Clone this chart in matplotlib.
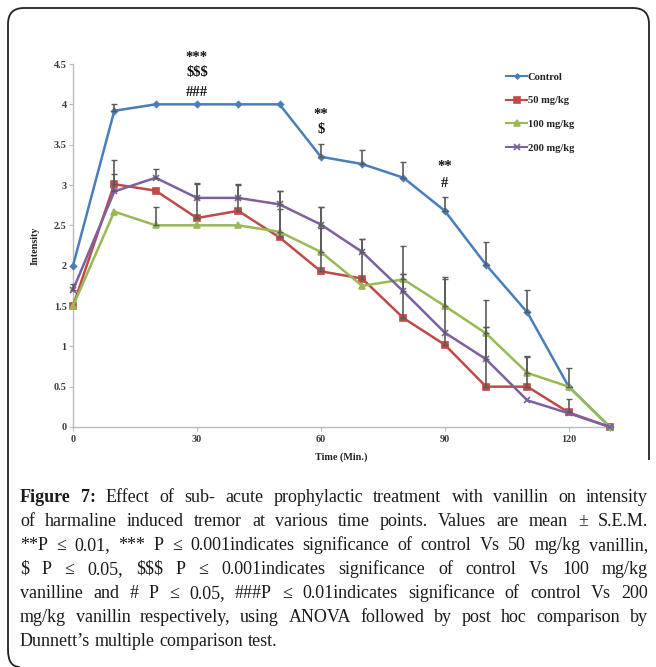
import numpy as np
import matplotlib
matplotlib.use("Agg")
import matplotlib.pyplot as plt
from matplotlib.path import Path
from matplotlib.patches import PathPatch

# ---------------- data ----------------
times = [0, 10, 20, 30, 40, 50, 60, 70, 80, 90, 100, 110, 120, 130]
control = [2.0, 3.92, 4.0, 4.0, 4.0, 4.0, 3.35, 3.26, 3.09, 2.68, 2.01, 1.42, 0.50, 0.0]
mg50 = [1.5, 3.01, 2.93, 2.59, 2.68, 2.35, 1.93, 1.84, 1.35, 1.02, 0.50, 0.50, 0.18, 0.0]
mg100 = [1.5, 2.67, 2.50, 2.50, 2.50, 2.42, 2.17, 1.75, 1.83, 1.50, 1.16, 0.67, 0.50, 0.0]
mg200 = [1.70, 2.92, 3.09, 2.84, 2.84, 2.76, 2.51, 2.17, 1.68, 1.17, 0.84, 0.33, 0.17, 0.0]

control_err = [0, 0.08, 0, 0, 0, 0, 0.16, 0.17, 0.20, 0.17, 0.28, 0.28, 0.23, 0]
mg50_err = [0, 0.30, 0, 0.43, 0.33, 0.58, 0.80, 0.49, 0.89, 0.84, 1.07, 0.38, 0.17, 0]
mg100_err = [0, 0, 0.23, 0, 0, 0.28, 0.30, 0, 0.07, 0.34, 0.08, 0.20, 0, 0]
mg200_err = [0.07, 0.22, 0.11, 0.17, 0.16, 0.17, 0.22, 0.16, 0.22, 0, 0.40, 0, 0, 0]

series_labels = ["Control", "50 mg/kg", "100 mg/kg", "200 mg/kg"]
xticks = [0, 30, 60, 90, 120]
yticks = [0, 0.5, 1, 1.5, 2, 2.5, 3, 3.5, 4, 4.5]
ytick_labels = ["0", "0.5", "1", "1.5", "2", "2.5", "3", "3.5", "4", "4.5"]

sig_marks = [(30, ["***", "$$$", "###"]), (60, ["**", "$"]), (90, ["**", "#"])]
sig_y = {30: [4.58, 4.40, 4.15], 60: [3.88, 3.69], 90: [3.23, 3.02]}

caption_lines = [
    [("Figure 7:", True), ("Effect of sub- acute prophylactic treatment with vanillin on intensity", False)],
    [("of harmaline induced tremor at various time points. Values are mean \u00b1 S.E.M.", False)],
    [("**P \u2264 0.01, *** P \u2264 0.001indicates significance of control Vs 50 mg/kg vanillin,", False)],
    [("$ P \u2264 0.05, $$$ P \u2264 0.001indicates significance of control Vs 100 mg/kg", False)],
    [("vanilline and # P \u2264 0.05, ###P \u2264 0.01indicates significance of control Vs 200", False)],
    [("mg/kg vanillin respectively, using ANOVA followed by post hoc comparison by", False)],
    [("Dunnett\u2019s multiple comparison test.", False)],
]

# ---------------- figure ----------------
W, H = 656, 667
fig = plt.figure(figsize=(W / 100, H / 100), dpi=100)
fig.patch.set_facecolor("white")

def fx(px):
    return px / W

def fy(py):
    return 1 - py / H

# rounded border
r = 16
x0, x1, y0 = 8, 649, 8
verts = [
    (x1, 460), (x1, y0 + r), (x1, y0), (x1 - r, y0),
    (x0 + r, y0), (x0, y0), (x0, y0 + r),
    (x0, 650), (x0, 667), (x0 + 12, 667),
]
codes = [Path.MOVETO, Path.LINETO, Path.CURVE3, Path.CURVE3,
         Path.LINETO, Path.CURVE3, Path.CURVE3,
         Path.LINETO, Path.CURVE3, Path.CURVE3]
verts_f = [(fx(a), fy(b)) for a, b in verts]
fig.patches.append(PathPatch(Path(verts_f, codes), transform=fig.transFigure,
                             fill=False, edgecolor="#222222", lw=1.3))

ax_left, ax_right, ax_top, ax_bottom = 73, 610, 64, 427
ax = fig.add_axes([fx(ax_left), fy(ax_bottom), fx(ax_right - ax_left), (ax_bottom - ax_top) / H])
ax.set_xlim(0, 130)
ax.set_ylim(0, 4.5)

colors = ["#4A7EBB", "#BE4B48", "#98B954", "#7D60A0"]
markers = ["D", "s", "^", "x"]
msizes = [3, 5, 5, 5]
all_y = [control, mg50, mg100, mg200]
all_err = [control_err, mg50_err, mg100_err, mg200_err]

t = np.array(times)
for y, e, c in zip(all_y, all_err, colors):
    y = np.array(y)
    e = np.array(e)
    m = e > 0
    ax.errorbar(t[m], y[m], yerr=[np.zeros(m.sum()), e[m]], fmt="none",
                ecolor="#5a5a5a", elinewidth=1.2, capsize=2, capthick=1.0, zorder=4,
                clip_on=False)

for y, c, mk, ms, lab in zip(all_y, colors, markers, msizes, series_labels):
    ax.plot(times, y, color=c, lw=1.8, marker=mk, ms=ms, mec=c, mfc=c, mew=1.2,
            label=lab, zorder=3, clip_on=False)

for s in ["top", "right"]:
    ax.spines[s].set_visible(False)
for s in ["left", "bottom"]:
    ax.spines[s].set_color("#bbbbbb")
    ax.spines[s].set_linewidth(1.0)

tick_font = dict(family="Liberation Serif", weight="bold", size=7.3)
ax.set_xticks(xticks)
ax.set_xticklabels([str(v) for v in xticks], fontdict=tick_font, color="#3a3a3a")
ax.set_yticks(yticks)
ax.set_yticklabels(ytick_labels, fontdict=tick_font, color="#3a3a3a")
ax.tick_params(axis="y", length=3, color="#bbbbbb", width=0.8, pad=1.5)
ax.tick_params(axis="x", length=3, color="#bbbbbb", width=0.8, pad=2.5)

ax.set_xlabel("Time (Min.)", family="Liberation Serif", weight="bold", size=7.3, color="#222222", labelpad=6)
ax.set_ylabel("Intensity", family="Liberation Serif", weight="bold", size=7.3, color="#222222", labelpad=10)

for x, marks in sig_marks:
    for txt, yy in zip(marks, sig_y[x]):
        ax.text(x, yy, txt, ha="center", va="center", family="Liberation Serif",
                weight="bold", size=10.5, color="#111111", parse_math=False, clip_on=False)

leg = ax.legend(loc="upper left", bbox_to_anchor=((502 - ax_left) / (ax_right - ax_left), (ax_bottom - 68) / (ax_bottom - ax_top)),
                frameon=False, handlelength=2.0, handletextpad=0.05, labelspacing=1.35,
                prop=dict(family="Liberation Serif", weight="bold", size=7.6), borderaxespad=0)
for txt in leg.get_texts():
    txt.set_color("#222222")
for h, ms in zip(leg.legend_handles, msizes):
    h.set_markersize(ms * 0.8)
    h.set_linewidth(1.5)

# ---------------- caption (justified) ----------------
fig.canvas.draw()
renderer = fig.canvas.get_renderer()
cap_left, cap_right = 20, 648
cap_width = cap_right - cap_left
fs = 13.0
line_y0, line_step = 497, 24.1

def make_words(line):
    words = []
    for seg, bold in line:
        for w in seg.split(" "):
            if w:
                words.append((w, bold))
    return words

def word_width(w, bold, size):
    tt = fig.text(0, 0, w, family="Liberation Serif", weight="bold" if bold else "normal",
                  size=size, parse_math=False)
    bb = tt.get_window_extent(renderer)
    tt.remove()
    return bb.width

space_w = word_width("a a", False, fs) - 2 * word_width("a", False, fs)
for i, line in enumerate(caption_lines):
    words = make_words(line)
    widths = [word_width(w, b, fs) for w, b in words]
    last = i == len(caption_lines) - 1
    if last or len(words) == 1:
        gap = space_w
    else:
        gap = (cap_width - sum(widths)) / (len(words) - 1)
    x = cap_left
    y = line_y0 + i * line_step
    for (w, b), wd in zip(words, widths):
        fig.text(fx(x), fy(y), w, family="Liberation Serif", weight="bold" if b else "normal",
                 size=fs, color="#1a1a1a", va="center", ha="left", parse_math=False)
        x += wd + gap

fig.savefig("out.png", dpi=100, facecolor="white")
